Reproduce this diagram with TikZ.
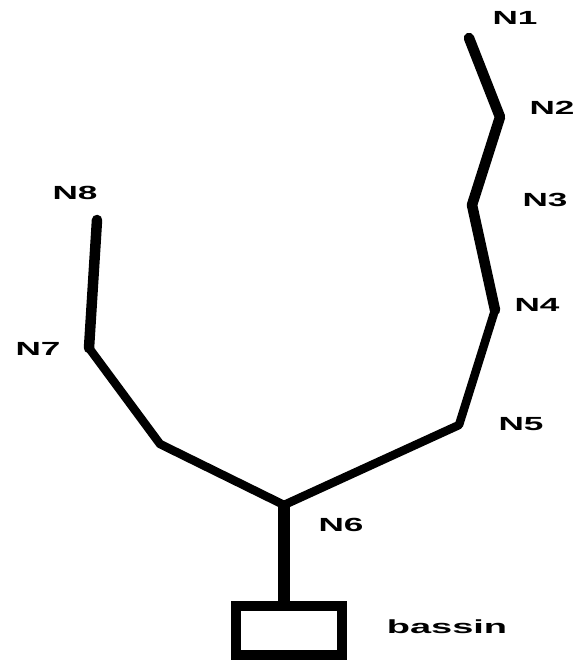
\documentclass[tikz,border=0pt]{standalone}
\usepackage{fontspec}
\setmainfont{Liberation Sans}
\begin{document}
\begin{tikzpicture}[x=1pt,y=-1pt,
  pipe/.style={line width=10.5pt,line join=round,line cap=round},
  pipethin/.style={line width=8.5pt,line join=round,line cap=round},
  lab/.style={font=\bfseries\fontsize{19}{19}\selectfont,inner sep=0pt},
  basin/.style={draw,line width=10pt,minimum width=106pt,minimum height=49pt,inner sep=0pt}]
\useasboundingbox (0,0) rectangle (580,660);
\coordinate (p1) at (469,38);
\coordinate (p2) at (500,117);
\coordinate (p3) at (472,205);
\coordinate (p4) at (495,310);
\coordinate (p5) at (459,425);
\coordinate (p6) at (284,505);
\coordinate (pb) at (160,444);
\coordinate (p7) at (89,348);
\coordinate (p8) at (97,220);
\node[basin] (box) at (289,630.5) {};
\draw[pipe] (p1) -- (p2) -- (p3) -- (p4);
\draw[pipethin] (p4) -- (p5) -- (p6);
\draw[pipe] (p8) -- (p7);
\draw[pipethin] (p7) -- (pb) -- (p6);
\draw[line width=12pt] (p6) -- (p6 |- box.north);
\node[lab] (l1) at (515,18) {\scalebox{1.85}[1]{N1}};
\node[lab] (l2) at (552,108) {\scalebox{1.85}[1]{N2}};
\node[lab] (l3) at (545,200) {\scalebox{1.85}[1]{N3}};
\node[lab] (l4) at (537,305) {\scalebox{1.85}[1]{N4}};
\node[lab] (l5) at (521,424) {\scalebox{1.85}[1]{N5}};
\node[lab] (l6) at (341,525) {\scalebox{1.85}[1]{N6}};
\node[lab] (l7) at (38,349) {\scalebox{1.85}[1]{N7}};
\node[lab] (l8) at (75,193) {\scalebox{1.85}[1]{N8}};
\node[lab] (lb) at (447,627) {\scalebox{2}[1]{bassin}};
\end{tikzpicture}
\end{document}
